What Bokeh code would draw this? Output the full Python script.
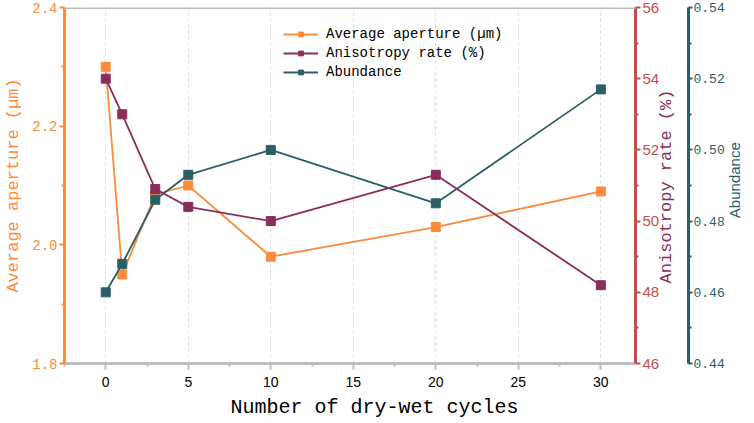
import math
from bokeh.plotting import figure
from bokeh.models import (Range1d, LinearAxis, FixedTicker, Span, Legend, LegendItem,
                          PrintfTickFormatter, Title)
from bokeh.embed import file_html
from bokeh.resources import INLINE

cycles = [0, 1, 3, 5, 10, 20, 30]
aperture = [2.30, 1.95, 2.085, 2.10, 1.98, 2.03, 2.09]
anisotropy = [54.0, 53.0, 50.9, 50.4, 50.0, 51.3, 48.2]
abundance = [0.460, 0.468, 0.486, 0.493, 0.500, 0.485, 0.517]

x_ticks = [0, 5, 10, 15, 20, 25, 30]
left_ticks = [1.8, 2.0, 2.2, 2.4]
aniso_ticks = [46, 48, 50, 52, 54, 56]
abund_ticks = [0.44, 0.46, 0.48, 0.50, 0.52, 0.54]

ORANGE = "#FA8C3C"
PURPLE = "#8B2D5B"
TEAL = "#2A5F68"
RED = "#C0504D"
GRAY = "#BDBDBD"
MONO = "Liberation Mono"
SANS = "Liberation Sans"

p = figure(width=754, height=423, output_backend="svg", toolbar_location=None,
           x_range=Range1d(-2.5, 32.1), y_range=Range1d(1.8, 2.4),
           min_border_left=64, min_border_right=116, min_border_top=7, min_border_bottom=59)
p.outline_line_color = None
p.background_fill_color = "white"
p.border_fill_color = "white"

p.extra_y_ranges = {"aniso": Range1d(46, 56), "abund": Range1d(0.44, 0.54)}

# grid
p.ygrid.visible = False
p.xgrid.grid_line_color = "#DCDCDC"
p.xgrid.grid_line_dash = "3 3"
p.xgrid.grid_line_width = 1

# x axis
xa = p.xaxis[0]
xa.ticker = FixedTicker(ticks=x_ticks, minor_ticks=[-2.5, 2.5, 7.5, 12.5, 17.5, 22.5, 27.5])
xa.axis_line_color = GRAY
xa.axis_line_width = 3
xa.major_tick_line_color = GRAY
xa.major_tick_line_width = 2
xa.minor_tick_line_color = GRAY
xa.minor_tick_line_width = 2
xa.major_tick_in = 0
xa.major_tick_out = 6
xa.minor_tick_in = 0
xa.minor_tick_out = 3
xa.major_label_text_font = SANS
xa.major_label_text_font_size = "14px"
xa.major_label_text_color = "black"
xa.major_label_standoff = 7

p.add_layout(Title(text="Number of dry-wet cycles", align="left", offset=166,
                   text_font=MONO, text_font_size="20px", text_font_style="normal",
                   text_color="black", standoff=9), "below")

# top border
p.add_layout(Span(location=2.4, dimension="width", line_color=GRAY, line_width=3))

def style_y(ax, color, label_font, label_size, tick_out=5, standoff=2):
    ax.axis_line_color = color
    ax.axis_line_width = 3
    ax.major_tick_line_color = color
    ax.major_tick_line_width = 2
    ax.minor_tick_line_color = color
    ax.minor_tick_line_width = 2
    ax.major_tick_in = 0
    ax.major_tick_out = tick_out
    ax.minor_tick_in = 0
    ax.minor_tick_out = 3
    ax.major_label_text_font = label_font
    ax.major_label_text_font_size = label_size
    ax.major_label_text_color = color
    ax.major_label_standoff = standoff

ya = p.yaxis[0]
ya.ticker = FixedTicker(ticks=left_ticks, minor_ticks=[1.9, 2.1, 2.3])
ya.formatter = PrintfTickFormatter(format="%.1f")
ya.axis_label = "Average aperture (µm)"
style_y(ya, ORANGE, MONO, "14px")
ya.axis_label_text_font = MONO
ya.axis_label_text_font_size = "17px"
ya.axis_label_text_font_style = "normal"
ya.axis_label_text_color = ORANGE
ya.axis_label_standoff = 6

def title_axis(text, anchor, color, font, size, standoff):
    """A bare right-side axis whose single tick label is the (bottom-to-top) axis title."""
    ax = LinearAxis(ticker=FixedTicker(ticks=[anchor], minor_ticks=[]))
    ax.major_label_overrides = {anchor: text}
    ax.major_label_orientation = math.pi / 2
    ax.axis_line_color = None
    ax.major_tick_line_color = None
    ax.minor_tick_line_color = None
    ax.major_tick_in = 0
    ax.major_tick_out = 0
    ax.minor_tick_in = 0
    ax.minor_tick_out = 0
    ax.major_label_standoff = standoff
    ax.major_label_text_font = font
    ax.major_label_text_font_size = size
    ax.major_label_text_color = color
    return ax

ra = LinearAxis(y_range_name="aniso",
                ticker=FixedTicker(ticks=aniso_ticks, minor_ticks=[47, 49, 51, 53, 55]))
style_y(ra, RED, SANS, "15px")
p.add_layout(ra, "right")

# where each rotated title starts (its lower end), in the left axis' units
aniso_title_start = 1.935
abund_title_start = 2.045
p.add_layout(title_axis("Anisotropy rate (%)", aniso_title_start, PURPLE, MONO, "17px", 4), "right")

ba = LinearAxis(y_range_name="abund",
                ticker=FixedTicker(ticks=abund_ticks, minor_ticks=[0.45, 0.47, 0.49, 0.51, 0.53]),
                formatter=PrintfTickFormatter(format="%.2f"))
style_y(ba, TEAL, MONO, "13px", tick_out=4, standoff=1)
p.add_layout(ba, "right")

p.add_layout(title_axis("Abundance", abund_title_start, TEAL, SANS, "15px", 7), "right")

# series
l1 = p.line(cycles, aperture, line_color=ORANGE, line_width=1.8)
m1 = p.scatter(cycles, aperture, marker="square", size=9, fill_color=ORANGE, line_color=ORANGE)
l3 = p.line(cycles, abundance, y_range_name="abund", line_color=TEAL, line_width=1.8)
m3 = p.scatter(cycles, abundance, y_range_name="abund", marker="square", size=9,
               fill_color=TEAL, line_color=TEAL)
l2 = p.line(cycles, anisotropy, y_range_name="aniso", line_color=PURPLE, line_width=1.8)
m2 = p.scatter(cycles, anisotropy, y_range_name="aniso", marker="square", size=9,
               fill_color=PURPLE, line_color=PURPLE)

legend = Legend(items=[
    LegendItem(label="Average aperture (µm)", renderers=[l1, m1]),
    LegendItem(label="Anisotropy rate (%)", renderers=[l2, m2]),
    LegendItem(label="Abundance", renderers=[l3, m3]),
], location=(219, 283))
legend.border_line_color = None
legend.background_fill_alpha = 0
legend.label_text_font = MONO
legend.label_text_font_size = "14px"
legend.label_text_color = "black"
legend.glyph_width = 35
legend.glyph_height = 12
legend.label_height = 12
legend.spacing = 3
legend.padding = 4
legend.margin = 0
legend.label_standoff = 8
p.add_layout(legend)

open("out.html", "w").write(file_html(p, INLINE))
